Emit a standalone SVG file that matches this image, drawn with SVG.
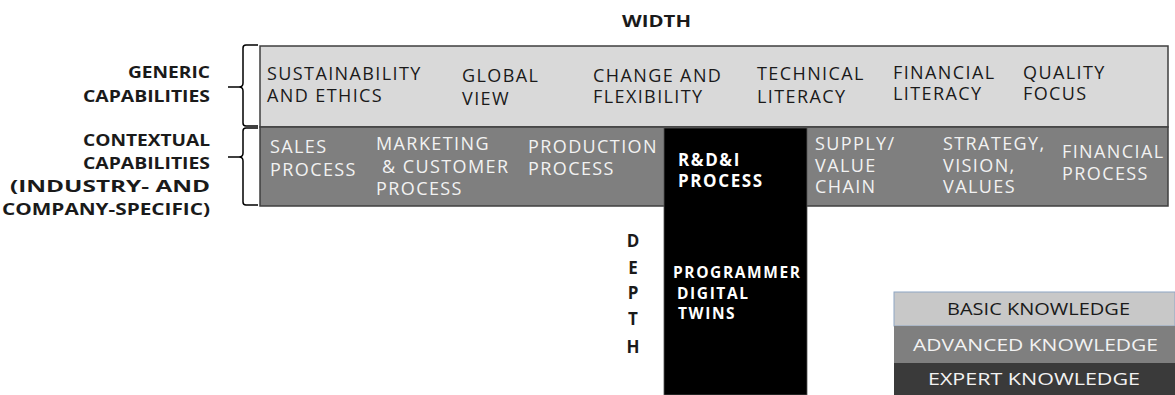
<svg xmlns="http://www.w3.org/2000/svg" width="1175" height="395" viewBox="0 0 1175 395">
<style>
.t{font-family:"Open Sans","DejaVu Sans",sans-serif;font-size:18px;letter-spacing:1.4px;}
.b{font-family:"Open Sans","DejaVu Sans",sans-serif;font-size:17px;font-weight:bold;letter-spacing:1.6px;}
.p{font-family:"Open Sans","DejaVu Sans",sans-serif;font-size:15.5px;font-weight:bold;letter-spacing:1.6px;}
.d{font-family:"Open Sans","DejaVu Sans",sans-serif;font-size:17px;font-weight:bold;}
.l{font-family:"Open Sans","DejaVu Sans",sans-serif;font-size:16px;font-weight:bold;}
.g{font-family:"Open Sans","DejaVu Sans",sans-serif;font-size:16px;}
.dk{fill:#1a1a1a;}
.wh{fill:#f2f2f2;}
.bw{fill:#ffffff;}
.br{fill:none;stroke:#000;stroke-width:1.5;}
</style>
<rect width="1175" height="395" fill="#fff"/>
<text class="l dk" x="622" y="27" textLength="69" lengthAdjust="spacingAndGlyphs">WIDTH</text>

<g id="labels">
<text class="l dk" x="128" y="78" textLength="82" lengthAdjust="spacingAndGlyphs">GENERIC</text>
<text class="l dk" x="83" y="102" textLength="127" lengthAdjust="spacingAndGlyphs">CAPABILITIES</text>
<text class="l dk" x="83" y="146" textLength="127" lengthAdjust="spacingAndGlyphs">CONTEXTUAL</text>
<text class="l dk" x="83" y="169" textLength="127" lengthAdjust="spacingAndGlyphs">CAPABILITIES</text>
<text class="l dk" x="10" y="192" textLength="200" lengthAdjust="spacingAndGlyphs">(INDUSTRY- AND</text>
<text class="l dk" x="2" y="215" textLength="208" lengthAdjust="spacingAndGlyphs">COMPANY-SPECIFIC)</text>
</g>

<g id="connectors">
<path class="br" d="M258,45 H246 Q243,45 243,48 V83 Q243,87 239,87 H228 M239,87 Q243,87 243,91 V123 Q243,126 246,126 H258"/>
<path class="br" d="M258,128 H246 Q243,128 243,131 V153 Q243,157 239,157 H228 M239,157 Q243,157 243,161 V202 Q243,205 246,205 H258"/>
</g>

<g id="generic">
<rect x="260" y="46" width="908" height="81" fill="#d9d9d9" stroke="#3f3f3f" stroke-width="1.5"/>
<text class="t dk"><tspan x="267" y="80">SUSTAINABILITY</tspan><tspan x="267" y="102">AND ETHICS</tspan></text>
<text class="t dk"><tspan x="462" y="82">GLOBAL</tspan><tspan x="462" y="105">VIEW</tspan></text>
<text class="t dk"><tspan x="593" y="82">CHANGE AND</tspan><tspan x="593" y="103">FLEXIBILITY</tspan></text>
<text class="t dk"><tspan x="757" y="80">TECHNICAL</tspan><tspan x="757" y="103">LITERACY</tspan></text>
<text class="t dk"><tspan x="893" y="79">FINANCIAL</tspan><tspan x="893" y="100">LITERACY</tspan></text>
<text class="t dk"><tspan x="1023" y="79">QUALITY</tspan><tspan x="1023" y="100">FOCUS</tspan></text>
</g>

<g id="contextual">
<rect x="260" y="127" width="908" height="79" fill="#7f7f7f" stroke="#3f3f3f" stroke-width="1.5"/>
<text class="t wh"><tspan x="270" y="153">SALES</tspan><tspan x="270" y="176">PROCESS</tspan></text>
<text class="t wh"><tspan x="376" y="150">MARKETING</tspan><tspan x="376" y="173"> &amp; CUSTOMER</tspan><tspan x="376" y="195">PROCESS</tspan></text>
<text class="t wh"><tspan x="528" y="153">PRODUCTION</tspan><tspan x="528" y="175">PROCESS</tspan></text>
<text class="t wh"><tspan x="815" y="150">SUPPLY/</tspan><tspan x="815" y="172">VALUE</tspan><tspan x="815" y="193">CHAIN</tspan></text>
<text class="t wh"><tspan x="943" y="150">STRATEGY,</tspan><tspan x="943" y="172">VISION,</tspan><tspan x="943" y="193">VALUES</tspan></text>
<text class="t wh"><tspan x="1062" y="158">FINANCIAL</tspan><tspan x="1062" y="180">PROCESS</tspan></text>
</g>

<g id="rdi">
<rect x="664" y="128" width="143" height="267" fill="#000" stroke="#555" stroke-width="0.8"/>
<text class="b bw"><tspan x="678" y="166">R&amp;D&amp;I</tspan><tspan x="678" y="187">PROCESS</tspan></text>
<text class="p bw"><tspan x="673" y="278">PROGRAMMER</tspan><tspan x="677" y="299">DIGITAL</tspan><tspan x="678" y="319">TWINS</tspan></text>
</g>

<g id="depth">
<text class="d dk" text-anchor="middle"><tspan x="633" y="247">D</tspan><tspan x="633" y="274">E</tspan><tspan x="633" y="299">P</tspan><tspan x="633" y="325">T</tspan><tspan x="633" y="353">H</tspan></text>
</g>

<g id="legend">
<rect x="894" y="292" width="281" height="34" fill="#c8c8c8" stroke="#8ea6c4" stroke-width="1"/>
<rect x="894" y="326" width="281" height="37" fill="#7f7f7f"/>
<rect x="894" y="363" width="281" height="32" fill="#3a3a3a"/>
<text class="g dk" x="947" y="315" textLength="183" lengthAdjust="spacingAndGlyphs">BASIC KNOWLEDGE</text>
<text class="g wh" x="913" y="351" textLength="245" lengthAdjust="spacingAndGlyphs">ADVANCED KNOWLEDGE</text>
<text class="g wh" x="928" y="385" textLength="212" lengthAdjust="spacingAndGlyphs">EXPERT KNOWLEDGE</text>
</g>
</svg>
